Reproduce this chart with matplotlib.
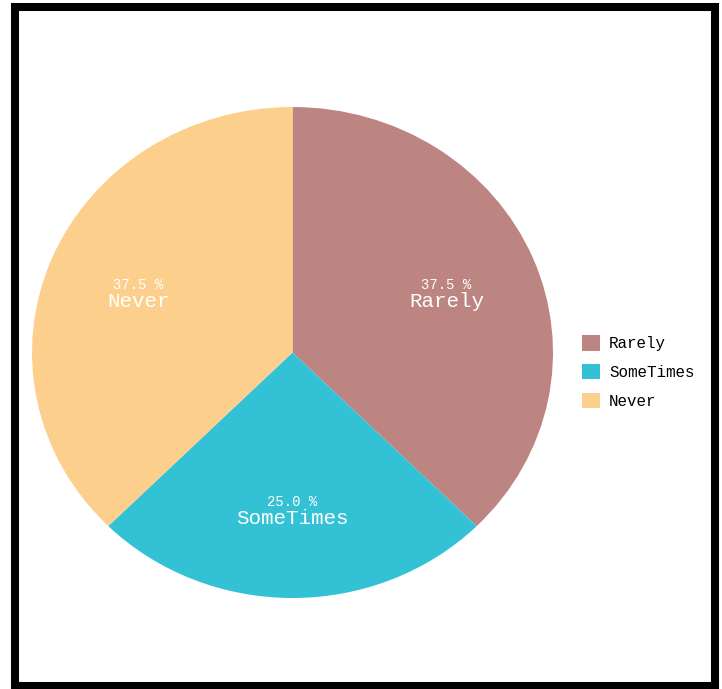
import numpy as np
import matplotlib.pyplot as plt
from matplotlib.patches import Patch, Rectangle

categories = ['Rarely', 'SomeTimes', 'Never']
shares = [37.5, 25.0, 37.5]
colors = ['#bc8581', '#33c1d5', '#fcd08c']

plt.rcParams['font.family'] = ['Liberation Mono', 'DejaVu Sans Mono']

W, H = 722, 689
fig = plt.figure(figsize=(W / 100, H / 100), dpi=100)

# pie spans a slightly wider-than-tall box, so leave the aspect free
ax = fig.add_axes([32 / W, (H - 598) / H, 521 / W, 491 / H])
wedges, _ = ax.pie(shares, colors=colors, startangle=90, counterclock=False,
                   wedgeprops=dict(linewidth=0))
ax.set_aspect('auto')
ax.set_xlim(-1, 1)
ax.set_ylim(-1, 1)

for w, name, val in zip(wedges, categories, shares):
    mid = np.deg2rad((w.theta1 + w.theta2) / 2)
    x, y = 0.64 * np.cos(mid), 0.64 * np.sin(mid)
    ax.annotate(f'{val:.1f} %', (x, y), xytext=(0, 5.5), textcoords='offset points',
                ha='center', va='center', color='white', fontsize=10)
    ax.annotate(name, (x, y), xytext=(0, -6.5), textcoords='offset points',
                ha='center', va='center', color='white', fontsize=15)

handles = [Patch(facecolor=c, edgecolor='none') for c in colors]
fig.legend(handles, categories, loc='center left',
           bbox_to_anchor=(568 / W, (H - 372) / H), frameon=False,
           fontsize=11.4, handlelength=1.1, handleheight=1.1,
           handletextpad=0.6, labelspacing=0.8)

# black frame around the whole chart
fig.add_artist(Rectangle((15 / W, 3.5 / H), 699.5 / W, 678.5 / H,
                         transform=fig.transFigure, fill=False,
                         edgecolor='black', linewidth=5.8))

fig.savefig('out.png', dpi=100, facecolor='white')
